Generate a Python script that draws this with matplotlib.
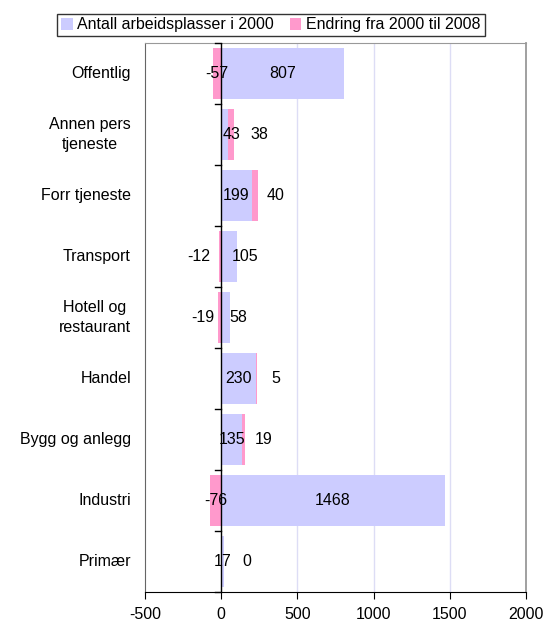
import matplotlib
matplotlib.use("Agg")
import matplotlib.pyplot as plt
from matplotlib.patches import Patch

categories = ["Offentlig", "Annen pers\ntjeneste", "Forr tjeneste", "Transport",
              "Hotell og\nrestaurant", "Handel", "Bygg og anlegg", "Industri", "Primær"]
base_2000 = [807, 43, 199, 105, 58, 230, 135, 1468, 17]
change = [-57, 38, 40, -12, -19, 5, 19, -76, 0]
xticks = [-500, 0, 500, 1000, 1500, 2000]
series_names = ["Antall arbeidsplasser i 2000", "Endring fra 2000 til 2008"]

# label layout (text positions in data units, as seen in the original)
base_label_x = [403, 68, 100, 156, 112, 115, 68, 734, 8]
change_label_x = [-28, 248, 355, -146, -118, 357, 281, -38, 167]

c_base = "#CCCCFF"
c_change = "#FF99CC"
FS = 11.5

plt.rcParams['font.family'] = ['Liberation Sans', 'DejaVu Sans']

fig = plt.figure(figsize=(5.44, 6.23), dpi=100)
ax = fig.add_axes([145/544, 1 - 592/623, (526-145)/544, (592-43)/623])

n = len(categories)
h = 0.85
for i in range(n):
    b = base_2000[i]
    c = change[i]
    ax.barh(i, b, height=h, color=c_base, zorder=2)
    if c >= 0:
        ax.barh(i, c, left=b, height=h, color=c_change, zorder=2)
    else:
        ax.barh(i, c, left=0, height=h, color=c_change, zorder=2)
    ax.text(base_label_x[i], i, str(b), ha='center', va='center', fontsize=FS, zorder=4)
    ax.text(change_label_x[i], i, str(c), ha='center', va='center', fontsize=FS, zorder=4)

ax.set_xlim(-500, 2000)
ax.set_ylim(n - 0.5, -0.5)
ax.set_xticks(xticks)
ax.set_xticklabels([str(t) for t in xticks], fontsize=FS)
for t in xticks[2:-1]:
    ax.axvline(t, color="#DDDDF5", lw=1, zorder=1)
ax.axvline(0, color="black", lw=1, zorder=3)

ax.set_yticks([])
for i, cat in enumerate(categories):
    ax.text(-0.037, 1 - (i + 0.5) / n, cat, transform=ax.transAxes, ha='right', va='center',
            fontsize=FS, multialignment='center', linespacing=1.45)
# category separator ticks on the zero line
for k in range(n + 1):
    ax.plot([-40, 0], [k - 0.5, k - 0.5], color="black", lw=1, zorder=3, clip_on=False)

for s in ["top", "right"]:
    ax.spines[s].set_color("#999999")
ax.spines["right"].set_linewidth(1.3)
ax.spines["left"].set_color("#666666")
ax.spines["bottom"].set_color("black")
ax.tick_params(axis='x', direction='out', length=5, color='black', pad=6)

handles = [Patch(facecolor=c_base, edgecolor='none'), Patch(facecolor=c_change, edgecolor='none')]
leg = fig.legend(handles, series_names, loc='center', bbox_to_anchor=(271/544, 1 - 25/623),
                 ncol=2, fontsize=FS, frameon=True, fancybox=False, edgecolor='black',
                 handlelength=0.7, handleheight=0.7, handletextpad=0.3, columnspacing=1.0,
                 borderpad=0.25, borderaxespad=0)
leg.get_frame().set_linewidth(1)

fig.savefig("out.png", dpi=100)
